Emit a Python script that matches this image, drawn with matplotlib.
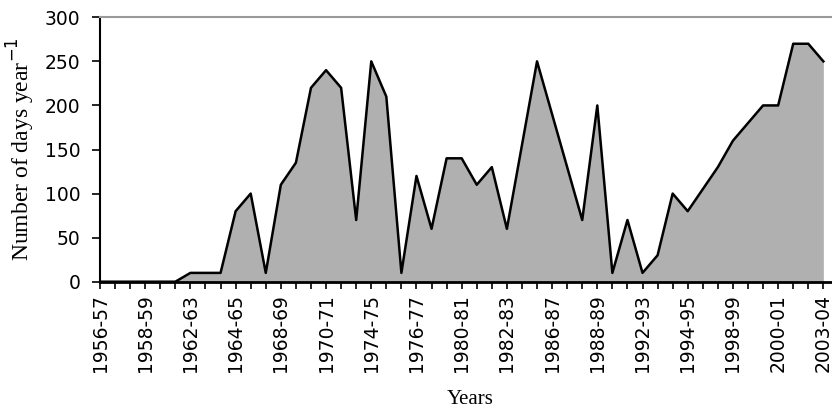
import numpy as np
import matplotlib
matplotlib.use("Agg")
import matplotlib.pyplot as plt

# values per season (one point per category on the axis)
days = [0, 0, 0, 0, 0, 0, 10, 10, 10, 80, 100, 10, 110, 135, 220, 240, 220, 70,
        250, 210, 10, 120, 60, 140, 140, 110, 130, 60, 155, 250, 190, 130, 70,
        200, 10, 70, 10, 30, 100, 80, 105, 130, 160, 180, 200, 200, 270, 270, 250]
# labels shown under every third category
tick_labels = ["1956-57", "1958-59", "1962-63", "1964-65", "1968-69", "1970-71",
               "1974-75", "1976-77", "1980-81", "1982-83", "1986-87", "1988-89",
               "1992-93", "1994-95", "1998-99", "2000-01", "2003-04"]
y_ticks = [0, 50, 100, 150, 200, 250, 300]

x = np.arange(len(days))

fig = plt.figure(figsize=(8.32, 4.13), dpi=100)
ax = fig.add_axes([100 / 832, 1 - 281.7 / 413, 732.4 / 832, 264.4 / 413])

ax.fill_between(x, days, 0, color="#b0b0b0", linewidth=0)
ax.plot(x, days, color="black", linewidth=1.8)

ax.set_xlim(0, 48.6)
ax.set_ylim(0, 300)

ax.set_xticks(np.arange(0, len(days), 3))
ax.set_xticklabels(tick_labels, rotation=90, fontsize=13.5, family="DejaVu Sans")
ax.set_xticks(x, minor=True)
ax.tick_params(axis="x", which="both", direction="out", length=5, width=1.2,
               color="black", pad=4)
ax.set_yticks(y_ticks)
ax.set_yticklabels([str(v) for v in y_ticks], fontsize=13.5, family="DejaVu Sans")
ax.tick_params(axis="y", direction="out", length=6, width=1.2, pad=8)

ax.spines["right"].set_visible(False)
ax.spines["top"].set_color("#999999")
ax.spines["top"].set_linewidth(1.5)
ax.spines["left"].set_linewidth(1.5)
ax.spines["bottom"].set_linewidth(2)

ax.set_ylabel("Number of days year$^{-1}$", family="Liberation Serif", fontsize=17,
              labelpad=6)
fig.text(470 / 832, 1 - 400 / 413, "Years", family="Liberation Serif", fontsize=15,
         ha="center", va="center")

fig.savefig("out.png", dpi=100)
